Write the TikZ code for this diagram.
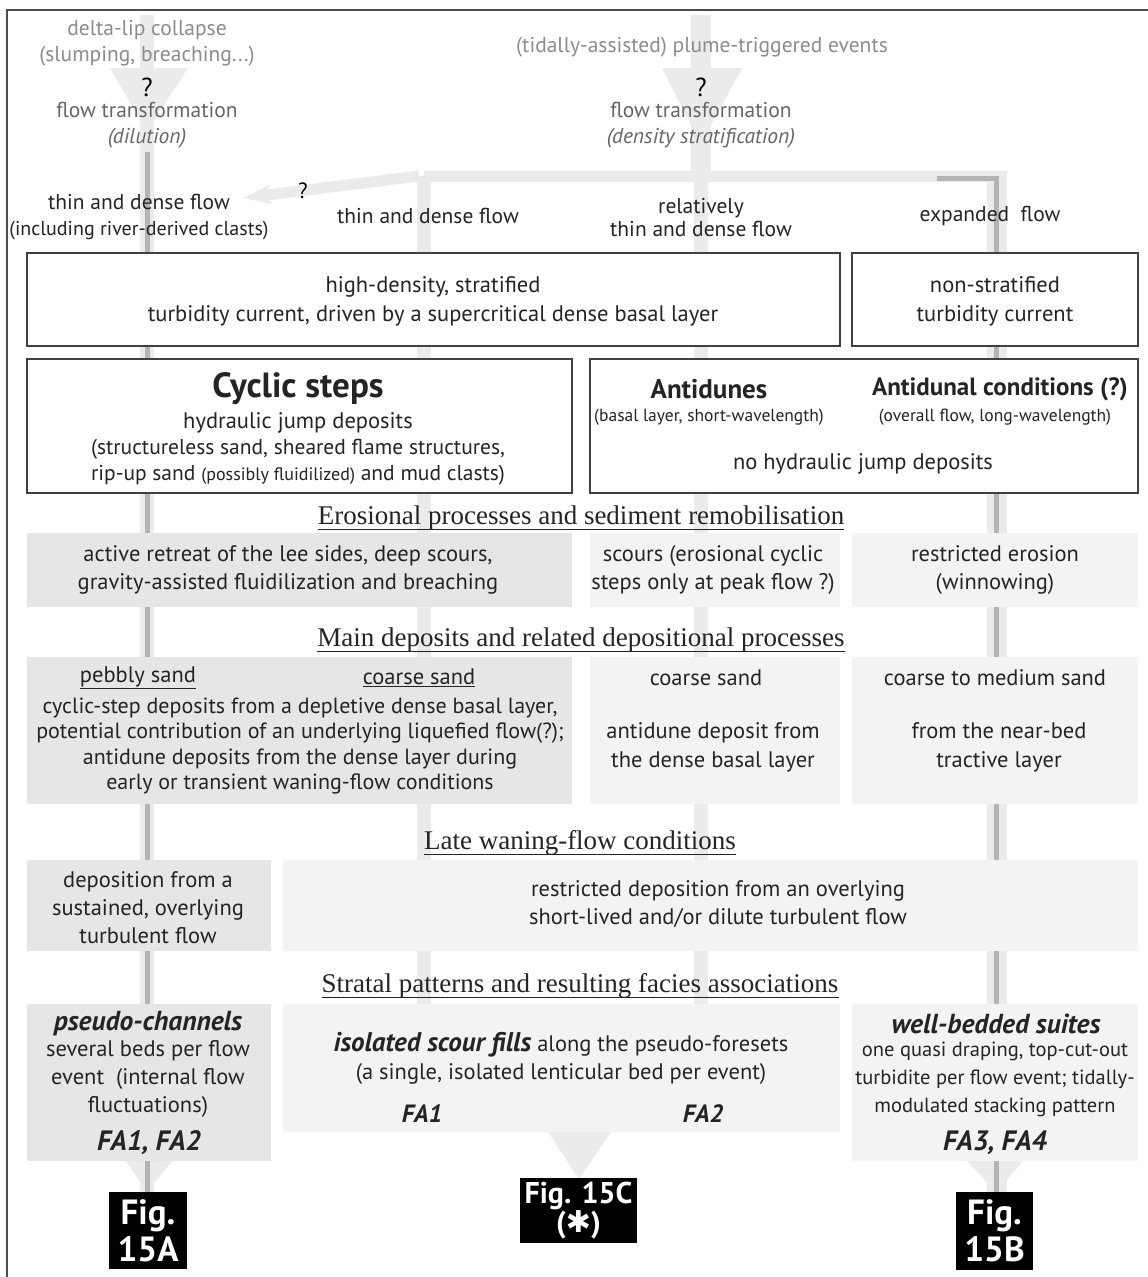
\documentclass[tikz,border=0pt]{standalone}
\usepackage{fontspec}
\setmainfont{Liberation Serif}
\setsansfont{PT Sans}
\newfontfamily\symfnt{DejaVu Sans}
\usetikzlibrary{arrows.meta}
\definecolor{bandc}{HTML}{EBEBEB}
\definecolor{linec}{HTML}{B4B4B4}
\definecolor{boxd}{HTML}{E6E6E6}
\definecolor{boxl}{HTML}{F3F3F3}
\definecolor{txt}{HTML}{242424}
\definecolor{gtxt}{HTML}{8C8C8C}
\definecolor{mtxt}{HTML}{666666}
\begin{document}
\begin{tikzpicture}[x=1pt,y=-1pt,
  every node/.style={inner sep=0pt, align=center, text=txt, font=\sffamily\fontsize{22.5}{28}\selectfont},
  band/.style={draw=bandc, line width=14pt},
  core/.style={draw=linec, line width=5pt},
  wbox/.style={draw=black!75, line width=1.3pt, fill=white},
  dbox/.style={fill=boxd},
  lbox/.style={fill=boxl},
  head/.style={text=txt, font=\rmfamily\fontsize{27}{30}\selectfont},
  uline/.style={draw=txt, line width=0.9pt},
  qmark/.style={text=black, font=\sffamily\fontsize{26}{28}\selectfont},
  figbox/.style={fill=black, text=white, font=\sffamily\bfseries\fontsize{35}{37}\selectfont},
  fa/.style={font=\sffamily\bfseries\itshape\fontsize{28}{30}\selectfont},
  fasm/.style={font=\sffamily\bfseries\itshape\fontsize{25}{28}\selectfont},
  fabig/.style={font=\sffamily\bfseries\itshape\fontsize{27.5}{30}\selectfont}
]
\useasboundingbox (0,0) rectangle (1148,1277);
\fill[white] (0,0) rectangle (1148,1277);
\draw[black!70, line width=1.6pt] (7,1280) -- (7,10) -- (1152,10);

% ---------- flow bands (background) ----------
\coordinate (c1top) at (147,15);
\coordinate (c1core) at (147,152);
\coordinate (c1bot) at (147,1192);
\coordinate (c3top) at (701,15);
\coordinate (c3br) at (701,176);
\coordinate (c3bot) at (701,1132);
\coordinate (c2br) at (424,176);
\coordinate (c2bot) at (424,1004);
\coordinate (c4br) at (997,176);
\coordinate (c4bot) at (997,1192);
\coordinate (c4l) at (937,178);
\coordinate (c4c) at (996,178);
\coordinate (c4cb) at (996,1192);
\coordinate (brtip) at (243,198);

\draw[band] (c1top) -- (c1bot);
\fill[bandc] (110,68) -- (188,68) -- (154,120) -- (140,120) -- cycle;
\draw[draw=bandc, line width=20pt] (c3top) -- (c3br);
\fill[bandc] (662,68) -- (742,68) -- (711,125) -- (691,125) -- cycle;
\draw[band] (c3br) -- (c3bot);
\draw[draw=bandc, line width=11pt] (1007,176) -- (c2br);
\draw[draw=bandc, line width=11pt, -{Stealth[length=28pt, width=19pt, inset=8pt]}] ([xshift=-5pt]c2br) -- (brtip);
\draw[band] (c2br) -- (c2bot);
\draw[draw=bandc, line width=20pt] (c4br) -- (c4bot);
\draw[core] (c1core) -- (c1bot);
\draw[core] (c4l) -- (c4c) -- (c4cb);

% ---------- top texts ----------
\node[text=gtxt, font=\sffamily\fontsize{21.5}{26}\selectfont] (src1) at (147,43) {delta-lip collapse\\(slumping, breaching...)};
\node[qmark] (q1) at (147,87) {?};
\node[text=mtxt, font=\sffamily\fontsize{21.5}{26}\selectfont] (ft1) at (147,125) {flow transformation\\\textit{(dilution)}};
\node[text=gtxt, font=\sffamily\fontsize{21.5}{26}\selectfont] (src3) at (702,47) {(tidally-assisted) plume-triggered events};
\node[qmark] (q3) at (701,87) {?};
\node[text=mtxt, font=\sffamily\fontsize{21.5}{26}\selectfont] (ft3) at (701,125) {flow transformation\\\textit{(density stratification)}};
\node[qmark, font=\sffamily\fontsize{22}{26}\selectfont] (qb) at (303,191) {?};

\node[font=\sffamily\fontsize{21.5}{26}\selectfont] (fl1) at (139,217) {thin and dense flow\\{\fontsize{20}{26}\selectfont(including river-derived clasts)}};
\node[font=\sffamily\fontsize{21.5}{26}\selectfont] (fl2) at (428,216) {thin and dense flow};
\node[font=\sffamily\fontsize{21.5}{23}\selectfont] (fl3) at (701,218) {relatively\\thin and dense flow};
\node[font=\sffamily\fontsize{21.5}{26}\selectfont] (fl4) at (990,216) {expanded\ \ flow};

% ---------- flow-type boxes ----------
\node[wbox, minimum width=813pt, minimum height=93pt] (hd) at (433.5,299.5) {};
\node[font=\sffamily\fontsize{22.5}{29}\selectfont] (hdt) at (433,301) {high-density, stratified\\turbidity current, driven by a supercritical dense basal layer};
\node[wbox, minimum width=286pt, minimum height=93pt] (ns) at (995,299.5) {};
\node[font=\sffamily\fontsize{22.5}{29}\selectfont] (nst) at (995,301) {non-stratified\\turbidity current};

\node[wbox, minimum width=545pt, minimum height=134pt] (cs) at (299.5,426) {};
\node[font=\sffamily\bfseries\fontsize{35}{38}\selectfont] (cst) at (298,389) {Cyclic steps};
\node (csa) at (298,423) {hydraulic jump deposits};
\node[font=\sffamily\fontsize{21.5}{26}\selectfont] (csb) at (298,462) {(structureless sand, sheared flame structures,\\rip-up sand {\fontsize{18}{26}\selectfont(possibly fluidilized)} and mud clasts)};

\node[wbox, minimum width=548pt, minimum height=134pt] (ad) at (864,426) {};
\node[font=\sffamily\bfseries\fontsize{27}{30}\selectfont] (adt) at (709,389) {Antidunes};
\node[font=\sffamily\fontsize{17.5}{20}\selectfont] (ads) at (709,417) {(basal layer, short-wavelength)};
\node[font=\sffamily\bfseries\fontsize{25}{28}\selectfont] (act) at (1000,389) {Antidunal conditions (?)};
\node[font=\sffamily\fontsize{17.5}{20}\selectfont] (acs) at (995,417) {(overall flow, long-wavelength)};
\node (adn) at (863,464) {no hydraulic jump deposits};

% ---------- erosional processes ----------
\node[head] (h1) at (581,518) {Erosional processes and sediment remobilisation};
\draw[uline] ([yshift=-5pt]h1.base west) -- ([yshift=-5pt]h1.base east);
\node[dbox, minimum width=545pt, minimum height=74pt] (e1) at (299.5,570) {};
\node (e1t) at (288,570) {active retreat of the lee sides, deep scours,\\gravity-assisted fluidilization and breaching};
\node[lbox, minimum width=250pt, minimum height=74pt] (e2) at (715,570) {};
\node (e2t) at (713,570) {scours (erosional cyclic\\steps only at peak flow ?)};
\node[lbox, minimum width=286pt, minimum height=74pt] (e3) at (995,570) {};
\node (e3t) at (995,570) {restricted erosion\\(winnowing)};

% ---------- main deposits ----------
\node[head] (h2) at (581,640) {Main deposits and related depositional processes};
\draw[uline] ([yshift=-5pt]h2.base west) -- ([yshift=-5pt]h2.base east);
\node[dbox, minimum width=545pt, minimum height=147pt] (d1) at (299.5,730.5) {};
\node (d1a) at (138,678) {\underline{pebbly sand}};
\node (d1b) at (419,678) {\underline{coarse sand}};
\node[font=\sffamily\fontsize{22}{25.5}\selectfont] (d1t) at (300,746) {cyclic-step deposits from a depletive dense basal layer,\\potential contribution of an underlying liquefied flow(?);\\antidune deposits from the dense layer during\\early or transient waning-flow conditions};
\node[lbox, minimum width=250pt, minimum height=147pt] (d2) at (715,730.5) {};
\node (d2a) at (706,678) {coarse sand};
\node[font=\sffamily\fontsize{22.5}{29}\selectfont] (d2t) at (713,747) {antidune deposit from\\the dense basal layer};
\node[lbox, minimum width=286pt, minimum height=147pt] (d3) at (995,730.5) {};
\node (d3a) at (995,678) {coarse to medium sand};
\node[font=\sffamily\fontsize{22.5}{29}\selectfont] (d3t) at (999,747) {from the near-bed\\tractive layer};

% ---------- late waning flow ----------
\node[head] (h3) at (580,843) {Late waning-flow conditions};
\draw[uline] ([yshift=-5pt]h3.base west) -- ([yshift=-5pt]h3.base east);
\node[dbox, minimum width=244pt, minimum height=91pt] (w1) at (149,905.5) {};
\node (w1t) at (148,908) {deposition from a\\sustained, overlying\\turbulent flow};
\node[lbox, minimum width=855pt, minimum height=91pt] (w2) at (710.5,905.5) {};
\node (w2t) at (718,904) {restricted deposition from an overlying\\short-lived and/or dilute turbulent flow};

% ---------- stratal patterns ----------
\node[head] (h4) at (580,986) {Stratal patterns and resulting facies associations};
\draw[uline] ([yshift=-5pt]h4.base west) -- ([yshift=-5pt]h4.base east);

\fill[bandc] (126,1161) -- (172,1161) -- (147,1192) -- cycle;
\fill[bandc] (548,1132) -- (611,1132) -- (579,1179) -- cycle;
\fill[bandc] (967,1161) -- (1023,1161) -- (996,1192) -- cycle;
\draw[core] (147,1161) -- (c1bot);
\draw[core] (996,1161) -- (c4cb);

\node[dbox, minimum width=244pt, minimum height=157pt] (s1) at (149,1082.5) {};
\node[fabig] (s1a) at (148,1024) {pseudo-channels};
\node (s1t) at (148,1079) {several beds per flow\\event\ \ (internal flow\\fluctuations)};
\node[fa] (s1f) at (149,1143) {FA1, FA2};
\node[lbox, minimum width=557pt, minimum height=128pt] (s2) at (561.5,1068) {};
\node (s2t) at (561,1058) {{\bfseries\itshape\fontsize{27}{28}\selectfont isolated scour fills} along the pseudo-foresets\\(a single, isolated lenticular bed per event)};
\node[fasm] (s2a) at (422,1114) {FA1};
\node[fasm] (s2b) at (703,1114) {FA2};
\node[lbox, minimum width=286pt, minimum height=157pt] (s3) at (995,1082.5) {};
\node[fabig] (s3a) at (996,1024) {well-bedded suites};
\node[font=\sffamily\fontsize{20.5}{28}\selectfont] (s3t) at (995,1079) {one quasi draping, top-cut-out\\turbidite per flow event; tidally-\\modulated stacking pattern};
\node[fa] (s3f) at (995,1143) {FA3, FA4};

% ---------- figure references ----------
\node[figbox, minimum width=78pt, minimum height=77pt] (f15a) at (148,1230.5) {Fig.\\15A};
\node[figbox, minimum width=117pt, minimum height=65pt, font=\sffamily\bfseries\fontsize{30}{26}\selectfont] (f15c) at (578.5,1210.5) {Fig. 15C\\({\symfnt\bfseries ✱})};
\node[figbox, minimum width=77pt, minimum height=78pt] (f15b) at (994.5,1231) {Fig.\\15B};
\end{tikzpicture}
\end{document}
